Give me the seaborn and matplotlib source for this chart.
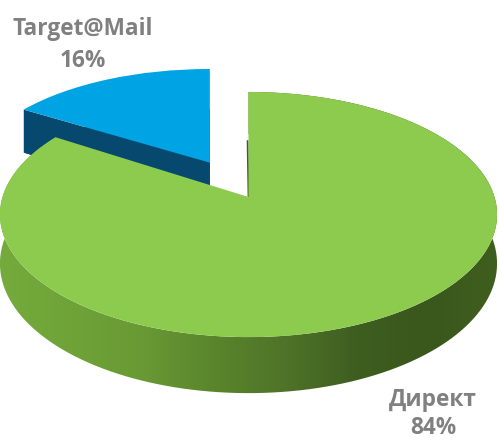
import numpy as np
import matplotlib
matplotlib.use("Agg")
import matplotlib.pyplot as plt
import seaborn as sns
from matplotlib.patches import PathPatch, Polygon, Wedge
from matplotlib.path import Path
from matplotlib.transforms import Transform

# Budget share by ad network
networks = ["Target@Mail", "Директ"]
shares = [16, 84]
explode = [0.34, 0.0]
face_colors = ["#00a4e4", "#8dcb4e"]
wall_color = "#07486f"
rim_shades = ["#74ab3c", "#6fa338", "#699934", "#5a852d", "#4f7328", "#3e5e20", "#3a571c", "#3f5f1e"]
text_color = "#808080"


class TiltedView(Transform):
    """Perspective view of the pie plane, dropped by `drop` pixels.

    A slice pulled out of the pie keeps vertical edges by pivoting on its own
    apex, and `squeeze` flattens it a little towards the back of the view.
    """
    input_dims = 2
    output_dims = 2

    def __init__(self, drop=0.0, pivot=(0.0, 0.0), squeeze=1.0):
        super().__init__()
        self.drop = drop
        self.pivot = pivot
        self.squeeze = squeeze

    def transform_non_affine(self, values):
        values = np.asarray(values, dtype=float)
        pu, pv = self.pivot
        u = values[:, 0] - pu
        v = pv + (values[:, 1] - pv) * self.squeeze
        w = 1 + 0.143 * v
        x = 248.5 + 246 * pu / (1 + 0.143 * pv) + 246 * u / w
        y = (197 - 91.9 * v + self.drop) / w
        return np.column_stack([x, y])


sns.set_theme(style="white")
plt.rcParams["font.family"] = ["Open Sans", "DejaVu Sans"]

fig = plt.figure(figsize=(4.99, 4.41), dpi=100, facecolor="white")
ax = fig.add_axes([0, 0, 1, 1])

wedges, _ = ax.pie(shares, explode=explode, colors=sns.color_palette(face_colors),
                   startangle=90, radius=1.0)
mail, direct = wedges

DEPTH = 48
top_pts = TiltedView()
low_pts = TiltedView(DEPTH)
mail_top = TiltedView(pivot=mail.center, squeeze=0.96)
mail_low = TiltedView(DEPTH, pivot=mail.center, squeeze=0.96)

mail.set_transform(mail_top + ax.transData)
direct.set_transform(top_pts + ax.transData)
for wedge in wedges:
    wedge.set_edgecolor("none")
    wedge.set_linewidth(0)
mail.set_zorder(4)
direct.set_zorder(6)

# Inner wall and underside of the pulled-out slice
cx, cy = mail.center
tip_angle = np.deg2rad(mail.theta2)
tip = np.array([[cx + np.cos(tip_angle), cy + np.sin(tip_angle)]])
apex = np.array([[cx, cy]])
ax.add_patch(Polygon(np.vstack([mail_top.transform(apex), mail_top.transform(tip),
                                mail_low.transform(tip), mail_low.transform(apex)]),
                     closed=True, facecolor=wall_color, edgecolor="none", zorder=3))
ax.add_patch(Wedge(mail.center, 1.0, mail.theta1, mail.theta2, facecolor=wall_color,
                   edgecolor="none", transform=mail_low + ax.transData, zorder=2))

# Shaded rim of the large slice
angles = np.deg2rad(np.linspace(direct.theta1, direct.theta2, 500))
rim = np.column_stack([np.cos(angles), np.sin(angles)])
rim_outline = np.vstack([top_pts.transform(rim), low_pts.transform(rim)[::-1]])
rim_clip = PathPatch(Path(rim_outline, closed=False), transform=ax.transData,
                     facecolor="none", edgecolor="none")
ax.add_patch(rim_clip)
shade = sns.blend_palette(rim_shades, as_cmap=True)
image = ax.imshow(np.linspace(0, 1, 256)[None, :], cmap=shade, aspect="auto",
                  extent=(0, 499, 441, 0), zorder=5)
image.set_clip_path(rim_clip)

# Thin dark edge of the large slice along the gap
seam = top_pts.transform(np.array([[0.0, 0.0], [-0.004, 0.5]]))
ax.plot(seam[:, 0], seam[:, 1], color="#3f5f1e", lw=1.3, zorder=5.5)

ax.set_aspect("auto")
ax.set_xlim(0, 499)
ax.set_ylim(441, 0)
ax.axis("off")

label_spots = [(83, 29, 61), (433, 400, 428)]
for name, share, (lx, ly, py) in zip(networks, shares, label_spots):
    ax.text(lx, ly, name, ha="center", va="center", fontsize=16.3, fontweight="bold",
            color=text_color, zorder=8)
    ax.text(lx, py, f"{share}%", ha="center", va="center", fontsize=16.3,
            fontweight="bold", color=text_color, zorder=8)

fig.savefig("out.png", dpi=100, facecolor="white")
